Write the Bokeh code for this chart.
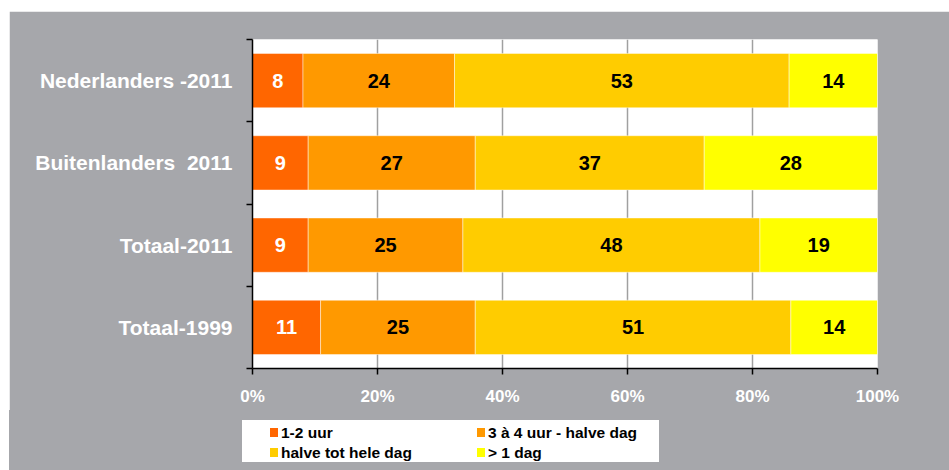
import numpy as np
from bokeh.plotting import figure
from bokeh.models import (ColumnDataSource, FixedTicker, NumeralTickFormatter,
                          Range1d, Spacer, Div)
from bokeh.layouts import column, row
from bokeh.core.properties import value
from bokeh.embed import file_html
from bokeh.resources import INLINE

# ---- data ----
groups = ["Totaal-1999", "Totaal-2011", "Buitenlanders\u00a0 2011", "Nederlanders -2011"]
series = ["1-2 uur", "3 à 4 uur - halve dag", "halve tot hele dag", "> 1 dag"]
v_1_2 = [11, 9, 9, 8]
v_3_4 = [25, 25, 27, 24]
v_halve_hele = [51, 48, 37, 53]
v_meer_dag = [14, 19, 28, 14]
colors = ["#FF6600", "#FF9900", "#FFCC00", "#FFFF00"]
label_colors = ["white", "black", "black", "black"]
x_ticks = [0, 0.2, 0.4, 0.6, 0.8, 1.0]

FONT = "Liberation Sans"
GRAY = "#a6a7ab"

vals = np.array([v_1_2, v_3_4, v_halve_hele, v_meer_dag], dtype=float)  # series x groups
shares = vals / vals.sum(axis=0)
ypos = np.arange(len(groups)) + 0.5

data = {"y": ypos}
keys = ["s0", "s1", "s2", "s3"]
for k, r in zip(keys, shares):
    data[k] = r
src = ColumnDataSource(data)

# ---- main chart ----
p = figure(width=940, height=399, output_backend="svg", toolbar_location=None,
           x_range=Range1d(0, 1), y_range=Range1d(0, len(groups)),
           min_border_left=243, min_border_right=72, min_border_top=28,
           min_border_bottom=42)
p.background_fill_color = "white"
p.border_fill_color = GRAY
p.outline_line_color = None

renderers = p.hbar_stack(keys, y="y", height=0.66, color=colors, source=src,
                         line_color="white", line_alpha=0.45, line_width=1)

# value labels
cum = np.cumsum(shares, axis=0)
starts = cum - shares
for i in range(len(series)):
    centers = (starts[i] + cum[i]) / 2
    lsrc = ColumnDataSource(dict(x=centers, y=ypos,
                                 t=[str(int(v)) for v in vals[i]]))
    p.text(x="x", y="y", text="t", source=lsrc, text_align="center",
           text_baseline="middle", text_color=label_colors[i],
           text_font=value(FONT), text_font_style="bold", text_font_size="20px")

# x axis
xa = p.xaxis[0]
xa.ticker = FixedTicker(ticks=x_ticks)
xa.formatter = NumeralTickFormatter(format="0%")
xa.axis_line_color = "black"
xa.axis_line_width = 1.5
xa.major_tick_line_color = "black"
xa.major_tick_line_width = 1.5
xa.major_tick_in = 0
xa.major_tick_out = 6
xa.minor_tick_line_color = None
xa.major_label_text_color = "white"
xa.major_label_text_font = FONT
xa.major_label_text_font_style = "bold"
xa.major_label_text_font_size = "17px"
xa.major_label_standoff = 12

# y axis
ya = p.yaxis[0]
ya.ticker = FixedTicker(ticks=list(ypos), minor_ticks=list(range(len(groups) + 1)))
ya.major_label_overrides = {float(y): g for y, g in zip(ypos, groups)}
ya.axis_line_color = "black"
ya.axis_line_width = 1.5
ya.major_tick_line_color = None
ya.major_tick_in = 0
ya.major_tick_out = 0
ya.minor_tick_line_color = "black"
ya.minor_tick_line_width = 1.5
ya.minor_tick_in = 0
ya.minor_tick_out = 6
ya.major_label_text_color = "white"
ya.major_label_text_font = FONT
ya.major_label_text_font_style = "bold"
ya.major_label_text_font_size = "21px"
ya.major_label_standoff = 14

# grid
p.xgrid.ticker = FixedTicker(ticks=[0.2, 0.4, 0.6, 0.8])
p.xgrid.grid_line_color = "#a0a0a0"
p.xgrid.grid_line_width = 1.5
p.ygrid.grid_line_color = None

# ---- legend strip (2 columns x 2 rows), built from series/colors ----
col_x = [28, 235]
row_c = [13, 33]
parts = []
for idx, (s, c) in enumerate(zip(series, colors)):
    cx = col_x[idx % 2]
    cy = row_c[idx // 2]
    parts.append(
        f'<div style="position:absolute;left:{cx}px;top:{cy - 5}px;width:8px;'
        f'height:9px;background:{c};"></div>'
        f'<div style="position:absolute;left:{cx + 11}px;top:{cy - 10}px;height:20px;'
        f'line-height:20px;white-space:nowrap;font-family:\'{FONT}\';font-weight:bold;'
        f'font-size:15.5px;color:black;">{s.replace(">", "&gt;")}</div>')
html = (f'<div style="position:relative;width:940px;height:60px;background:{GRAY};'
        f'margin:0;padding:0;">'
        f'<div style="position:absolute;left:233px;top:10px;width:417px;height:42px;'
        f'background:white;">' + "".join(parts) + '</div></div>')
legend_div = Div(text=html, width=940, height=60, margin=0,
                 styles={"background-color": GRAY})

layout = column(Spacer(height=11, margin=0),
                row(Spacer(width=9, margin=0), column(p, legend_div, spacing=0), spacing=0),
                spacing=0)
open("out.html", "w").write(file_html(layout, INLINE))
